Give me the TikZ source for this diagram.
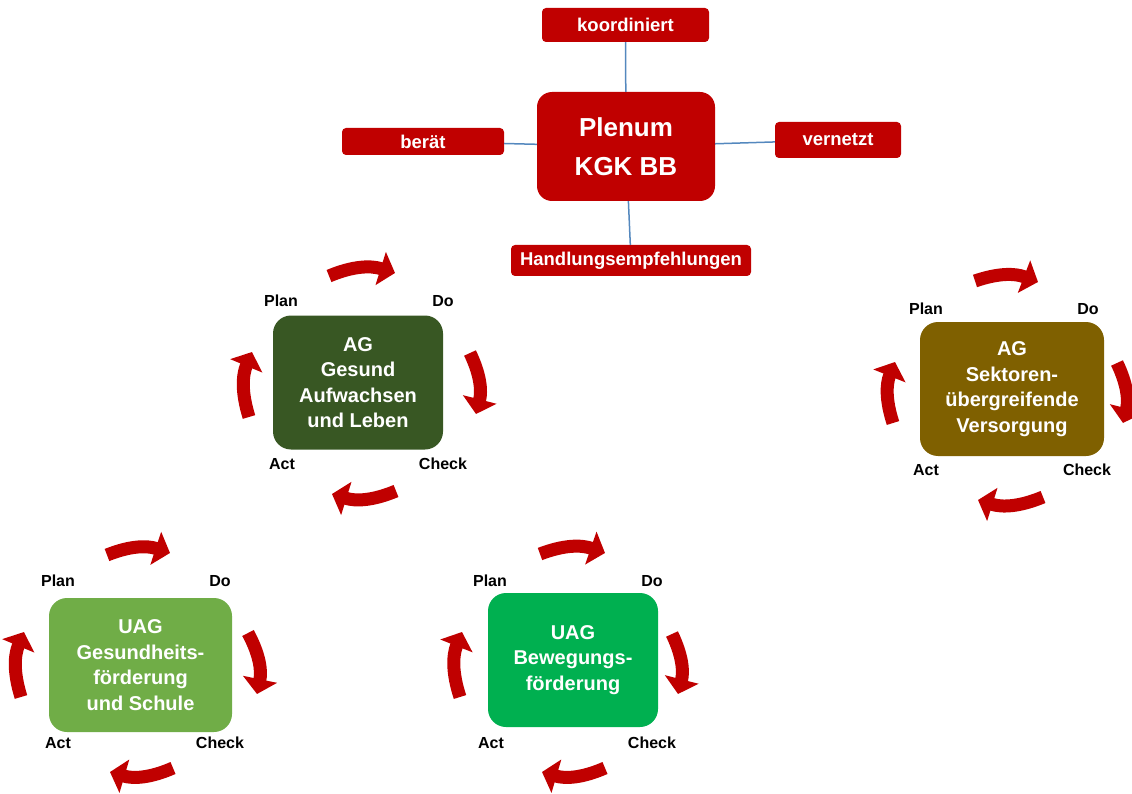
\documentclass[tikz,border=0pt]{standalone}
\usepackage{fontspec}
\setmainfont{Liberation Sans}
\usepackage{tikz}
\usetikzlibrary{arrows.meta,positioning}

\definecolor{kgkred}{RGB}{192,0,0}
\definecolor{linkblue}{RGB}{84,136,190}
\definecolor{agdark}{RGB}{56,87,35}
\definecolor{agbrown}{RGB}{127,96,0}
\definecolor{uaglight}{RGB}{112,173,71}
\definecolor{uaggreen}{RGB}{0,176,80}

\begin{document}
\begin{tikzpicture}[x=1pt, y=-1pt,
    plenum/.style={rectangle, rounded corners=15pt, fill=kgkred, text=white, align=center, inner sep=0pt, font=\fontsize{26}{39}\selectfont\bfseries, minimum width=178pt, minimum height=109pt},
    verb/.style={rectangle, rounded corners=4pt, fill=kgkred, text=white, inner sep=0pt, font=\fontsize{18.5}{22}\selectfont\bfseries},
    group/.style={rectangle, rounded corners=18pt, text=white, align=center, inner sep=0pt, font=\fontsize{20}{25.5}\selectfont\bfseries, minimum height=134pt},
    phase/.style={inner sep=0pt, font=\fontsize{16}{19}\selectfont\bfseries},
    cycle/.style={draw=kgkred, line width=13pt, -{Triangle[length=15pt,width=34pt]}},
    link/.style={draw=linkblue, line width=1.5pt}
]
\useasboundingbox (0,0) rectangle (1132,794);

% Plenum
\node[plenum] (plenum) at (626,146.5) {Plenum\\KGK BB};

% Aufgaben
\node[verb, minimum width=167pt, minimum height=34pt] (koord) at (625.5,25) {koordiniert};
\node[verb, minimum width=162pt, minimum height=27pt] (beraet) at (423,141.5) {berät};
\node[verb, minimum width=126pt, minimum height=36pt] (vernetzt) at (838,140) {vernetzt};
\node[verb, minimum width=240pt, minimum height=31pt] (handlung) at (631,260.5) {Handlungsempfehlungen};

% Verbindungen
\draw[link] (koord) -- (plenum);
\draw[link] (beraet) -- (plenum);
\draw[link] (plenum) -- (vernetzt);
\draw[link] (plenum) -- (handlung);

% Arbeitsgruppen
\node[group, fill=agdark, minimum width=170pt] (agauf) at (358,382.5) {AG\\Gesund\\Aufwachsen\\und Leben};
\node[group, fill=agbrown, minimum width=184pt] (agsek) at (1012,389) {AG\\Sektoren-\\übergreifende\\Versorgung};
\node[group, fill=uaglight, minimum width=183pt] (uagschule) at (140.5,665) {UAG\\Gesundheits-\\förderung\\und Schule};
\node[group, fill=uaggreen, minimum width=170pt] (uagbeweg) at (573,660) {UAG\\Bewegungs-\\förderung};

% PDCA AG Gesund Aufwachsen
\node[phase] (plan1) at (281,301) {Plan};
\node[phase] (do1) at (443,301) {Do};
\node[phase] (act1) at (282,464) {Act};
\node[phase] (check1) at (443,464) {Check};
\draw[cycle] (329,276) to[bend left=20] (395,273);
\draw[cycle] (470,353) to[bend left=20] (476,414);
\draw[cycle] (396,491) to[bend left=20] (332,494);
\draw[cycle] (249,417) to[bend left=20] (252,352);

% PDCA AG Sektoren
\node[phase] (plan2) at (926,309) {Plan};
\node[phase] (do2) at (1088,309) {Do};
\node[phase] (act2) at (926,470) {Act};
\node[phase] (check2) at (1087,470) {Check};
\draw[cycle] (975,281) to[bend left=20] (1038,282);
\draw[cycle] (1117,363) to[bend left=20] (1123,423);
\draw[cycle] (1043,497) to[bend left=20] (978,500);
\draw[cycle] (893,423) to[bend left=20] (895,362);

% PDCA UAG Schule
\node[phase] (plan3) at (58,581) {Plan};
\node[phase] (do3) at (220,581) {Do};
\node[phase] (act3) at (58,743) {Act};
\node[phase] (check3) at (220,743) {Check};
\draw[cycle] (107,555) to[bend left=20] (170,553);
\draw[cycle] (248,633) to[bend left=20] (257,694);
\draw[cycle] (173,768) to[bend left=20] (110,772);
\draw[cycle] (21,697) to[bend left=20] (24,632);

% PDCA UAG Bewegung
\node[phase] (plan4) at (490,581) {Plan};
\node[phase] (do4) at (652,581) {Do};
\node[phase] (act4) at (491,743) {Act};
\node[phase] (check4) at (652,743) {Check};
\draw[cycle] (540,554) to[bend left=20] (605,553);
\draw[cycle] (672,634) to[bend left=20] (678,694);
\draw[cycle] (605,768) to[bend left=20] (542,772);
\draw[cycle] (460,697) to[bend left=20] (462,632);

\end{tikzpicture}
\end{document}
